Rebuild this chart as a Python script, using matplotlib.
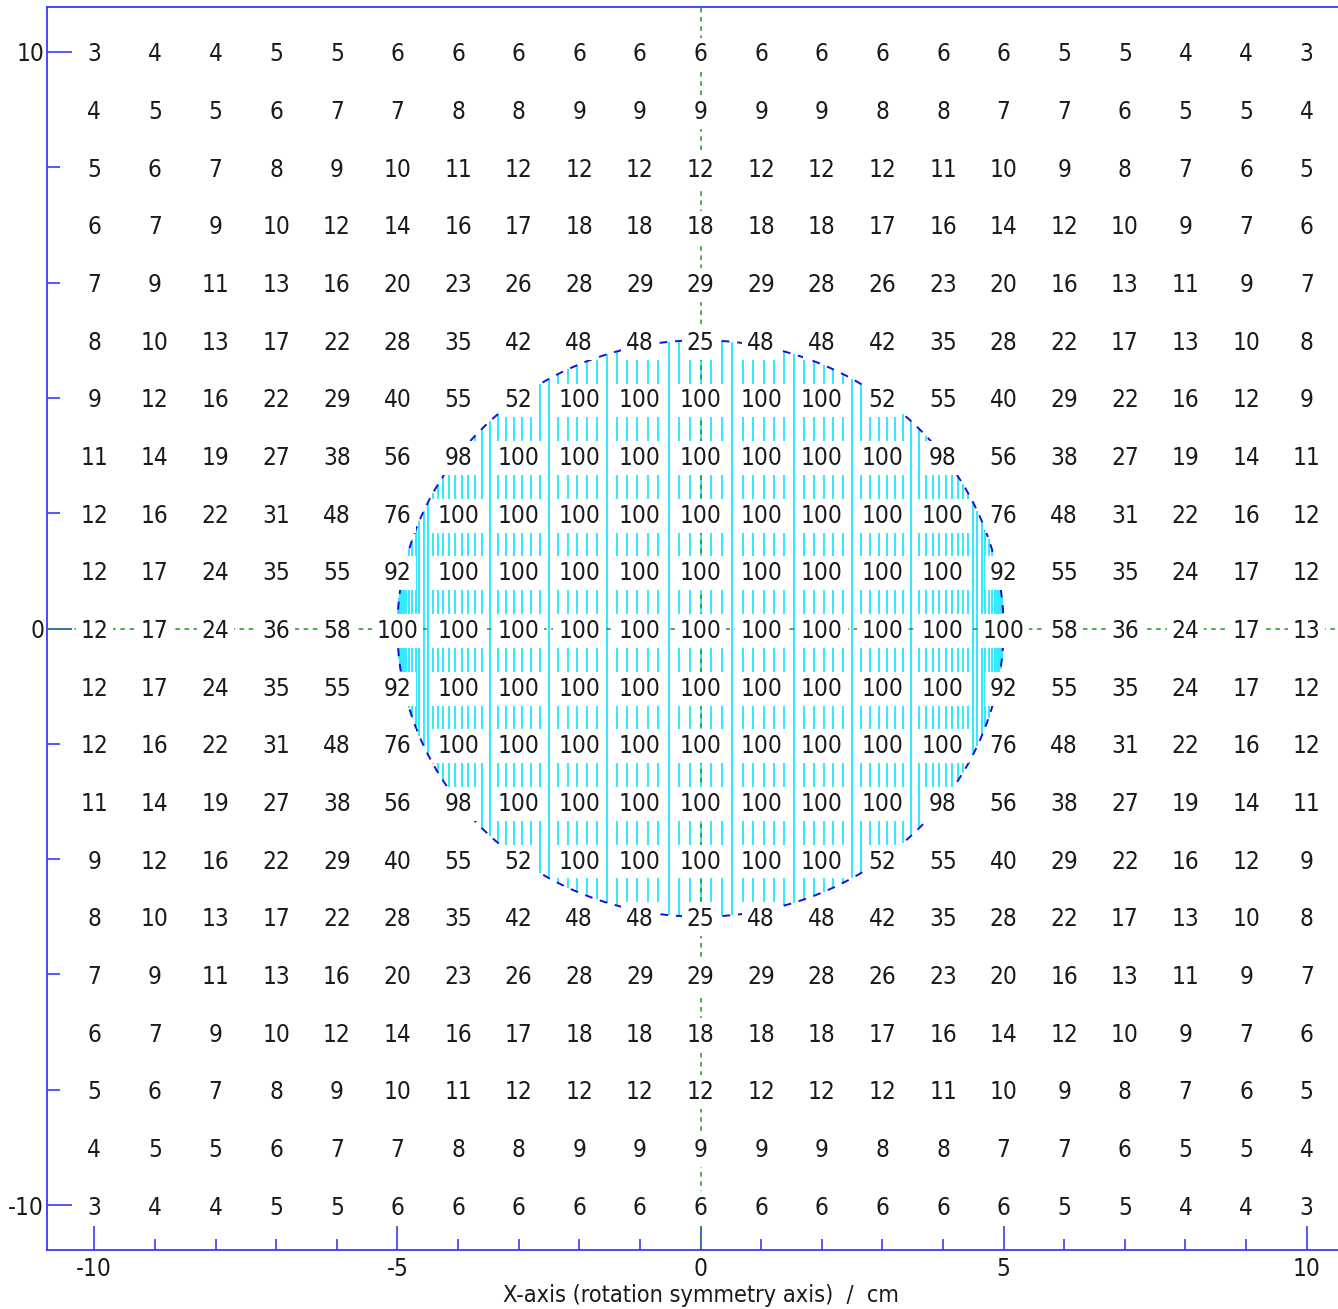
import numpy as np
import matplotlib
matplotlib.use("Agg")
import matplotlib.pyplot as plt
from matplotlib.ticker import MultipleLocator

# Grid coordinates (cm)
x_positions = list(range(-10, 11))
y_positions = list(range(10, -11, -1))

# Percentage values on the grid, one row per y from +10 down to -10
row_p10 = [3, 4, 4, 5, 5, 6, 6, 6, 6, 6, 6, 6, 6, 6, 6, 6, 5, 5, 4, 4, 3]
row_p9 = [4, 5, 5, 6, 7, 7, 8, 8, 9, 9, 9, 9, 9, 8, 8, 7, 7, 6, 5, 5, 4]
row_p8 = [5, 6, 7, 8, 9, 10, 11, 12, 12, 12, 12, 12, 12, 12, 11, 10, 9, 8, 7, 6, 5]
row_p7 = [6, 7, 9, 10, 12, 14, 16, 17, 18, 18, 18, 18, 18, 17, 16, 14, 12, 10, 9, 7, 6]
row_p6 = [7, 9, 11, 13, 16, 20, 23, 26, 28, 29, 29, 29, 28, 26, 23, 20, 16, 13, 11, 9, 7]
row_p5 = [8, 10, 13, 17, 22, 28, 35, 42, 48, 48, 25, 48, 48, 42, 35, 28, 22, 17, 13, 10, 8]
row_p4 = [9, 12, 16, 22, 29, 40, 55, 52, 100, 100, 100, 100, 100, 52, 55, 40, 29, 22, 16, 12, 9]
row_p3 = [11, 14, 19, 27, 38, 56, 98, 100, 100, 100, 100, 100, 100, 100, 98, 56, 38, 27, 19, 14, 11]
row_p2 = [12, 16, 22, 31, 48, 76, 100, 100, 100, 100, 100, 100, 100, 100, 100, 76, 48, 31, 22, 16, 12]
row_p1 = [12, 17, 24, 35, 55, 92, 100, 100, 100, 100, 100, 100, 100, 100, 100, 92, 55, 35, 24, 17, 12]
row_0 = [12, 17, 24, 36, 58, 100, 100, 100, 100, 100, 100, 100, 100, 100, 100, 100, 58, 36, 24, 17, 13]
row_m1 = [12, 17, 24, 35, 55, 92, 100, 100, 100, 100, 100, 100, 100, 100, 100, 92, 55, 35, 24, 17, 12]
row_m2 = [12, 16, 22, 31, 48, 76, 100, 100, 100, 100, 100, 100, 100, 100, 100, 76, 48, 31, 22, 16, 12]
row_m3 = [11, 14, 19, 27, 38, 56, 98, 100, 100, 100, 100, 100, 100, 100, 98, 56, 38, 27, 19, 14, 11]
row_m4 = [9, 12, 16, 22, 29, 40, 55, 52, 100, 100, 100, 100, 100, 52, 55, 40, 29, 22, 16, 12, 9]
row_m5 = [8, 10, 13, 17, 22, 28, 35, 42, 48, 48, 25, 48, 48, 42, 35, 28, 22, 17, 13, 10, 8]
row_m6 = [7, 9, 11, 13, 16, 20, 23, 26, 28, 29, 29, 29, 28, 26, 23, 20, 16, 13, 11, 9, 7]
row_m7 = [6, 7, 9, 10, 12, 14, 16, 17, 18, 18, 18, 18, 18, 17, 16, 14, 12, 10, 9, 7, 6]
row_m8 = [5, 6, 7, 8, 9, 10, 11, 12, 12, 12, 12, 12, 12, 12, 11, 10, 9, 8, 7, 6, 5]
row_m9 = [4, 5, 5, 6, 7, 7, 8, 8, 9, 9, 9, 9, 9, 8, 8, 7, 7, 6, 5, 5, 4]
row_m10 = [3, 4, 4, 5, 5, 6, 6, 6, 6, 6, 6, 6, 6, 6, 6, 6, 5, 5, 4, 4, 3]

grid_rows = [row_p10, row_p9, row_p8, row_p7, row_p6, row_p5, row_p4, row_p3,
             row_p2, row_p1, row_0, row_m1, row_m2, row_m3, row_m4, row_m5,
             row_m6, row_m7, row_m8, row_m9, row_m10]

# Source disc
disc_radius = 5.0
n_hatch = 91

x_tick_labels = ["-10", "-5", "0", "5", "10"]
y_tick_labels = ["-10", "0", "10"]
x_label = "X-axis (rotation symmetry axis)  /  cm"

AXIS_BLUE = "#3a3aff"
HATCH_CYAN = "#20e8ff"
EDGE_BLUE = "#1010e0"
GUIDE_GREEN = "#1a9a1a"
TEXT = "#1a1a1a"
FONT = dict(family="DejaVu Sans", stretch="condensed")
FS = 17.5

W, H = 1338, 1309
fig = plt.figure(figsize=(W / 100, H / 100), dpi=100)
ax_left, ax_right = 47 / W, 1354 / W
ax_bottom, ax_top = 1 - 1250 / H, 1 - 7 / H
ax = fig.add_axes([ax_left, ax_bottom, ax_right - ax_left, ax_top - ax_bottom])
lim = 10.78
ax.set_xlim(-lim, lim)
ax.set_ylim(-lim, lim)

# Vertical hatch lines filling the disc, evenly spaced in angle
theta = np.linspace(-np.pi / 2, np.pi / 2, n_hatch)
hx = disc_radius * np.sin(theta)
hy = np.sqrt(np.clip(disc_radius ** 2 - hx ** 2, 0, None))
ax.vlines(hx, -hy, hy, colors=HATCH_CYAN, linewidth=1.3, zorder=1)

# Disc outline
phi = np.linspace(0, 2 * np.pi, 400)
ax.plot(disc_radius * np.cos(phi), disc_radius * np.sin(phi), color=EDGE_BLUE,
        linewidth=1.4, linestyle=(0, (4, 4)), zorder=2)

# Dotted guide lines through the origin
ax.axhline(0, color=GUIDE_GREEN, linewidth=1.1, linestyle=(0, (3, 3)), zorder=2)
ax.axvline(0, color=GUIDE_GREEN, linewidth=1.1, linestyle=(0, (3, 3)), zorder=2)

# Value labels on the grid
for yv, row in zip(y_positions, grid_rows):
    for xv, val in zip(x_positions, row):
        ax.text(xv, yv, str(val), ha="center", va="center_baseline",
                fontsize=FS, color=TEXT, zorder=3, **FONT,
                bbox=dict(boxstyle="square,pad=0.2", facecolor="white",
                          edgecolor="none"))

# Axes styling
for side in ["left", "bottom", "top", "right"]:
    ax.spines[side].set_color(AXIS_BLUE)
    ax.spines[side].set_linewidth(1.3)

ax.xaxis.set_minor_locator(MultipleLocator(1))
ax.yaxis.set_minor_locator(MultipleLocator(2))
ax.set_xticks([-10, -5, 0, 5, 10])
ax.set_xticklabels(x_tick_labels)
ax.set_yticks([-10, 0, 10])
ax.set_yticklabels(y_tick_labels)

ax.tick_params(axis="x", which="major", direction="in", length=17, width=1.2,
               color=AXIS_BLUE, pad=5, labelsize=FS, top=False)
ax.tick_params(axis="x", which="minor", direction="in", length=8, width=1.2,
               color=AXIS_BLUE, top=False)
ax.tick_params(axis="y", which="major", direction="in", length=18, width=1.2,
               color=AXIS_BLUE, pad=2, labelsize=FS, right=False)
ax.tick_params(axis="y", which="minor", direction="in", length=9, width=1.2,
               color=AXIS_BLUE, right=False)
for lbl in ax.get_xticklabels() + ax.get_yticklabels():
    lbl.set_fontfamily(FONT["family"])
    lbl.set_fontstretch(FONT["stretch"])
    lbl.set_color(TEXT)

ax.set_xlabel(x_label, fontsize=16.8, labelpad=2, color=TEXT, **FONT)

fig.savefig("out.png", dpi=100)
